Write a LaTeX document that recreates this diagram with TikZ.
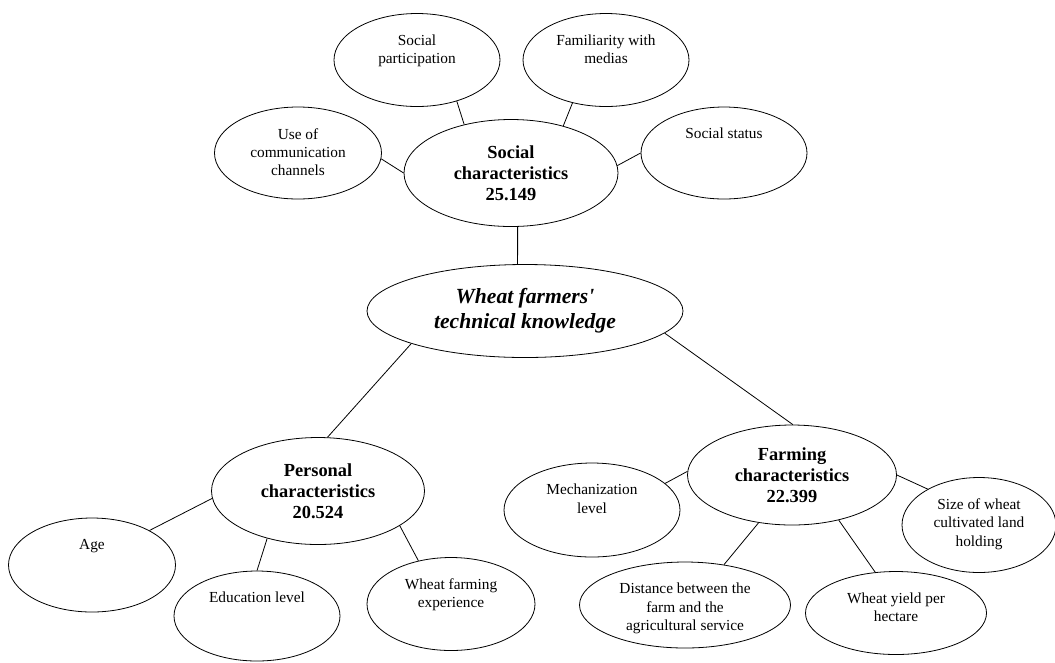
\documentclass[tikz,border=0pt]{standalone}
\usepackage{fontspec}
\setmainfont{Liberation Serif}[Ligatures=TeXOff]
\usetikzlibrary{positioning, shapes.geometric}

\begin{document}
\begin{tikzpicture}[x=0.75pt, y=-0.75pt,
    rootNode/.style={draw=black, line width=0.6pt, ellipse, inner sep=0pt, align=center, font=\fontsize{16.2}{18.8}\selectfont\bfseries\itshape},
    groupNode/.style={draw=black, line width=0.6pt, ellipse, inner sep=0pt, align=center, font=\fontsize{13.8}{15.6}\selectfont\bfseries},
    leafNode/.style={draw=black, line width=0.6pt, ellipse, inner sep=0pt},
    leafText/.style={inner sep=0pt, align=center, font=\fontsize{11.5}{13.8}\selectfont},
    link/.style={draw=black, line width=0.6pt},
]
\useasboundingbox (0,0) rectangle (1055,662);

\node[rootNode,  minimum width=237pt,    minimum height=69.75pt] (wk)   at (525,311) {Wheat farmers'\\technical knowledge};
\node[groupNode, minimum width=160.5pt,  minimum height=80.25pt] (soc)  at (511,173) {Social\\characteristics\\25.149};
\node[groupNode, minimum width=159.75pt, minimum height=80.25pt] (pers) at (318,491) {Personal\\characteristics\\20.524};
\node[groupNode, minimum width=156.75pt, minimum height=75pt]    (farm) at (792,475) {Farming\\characteristics\\22.399};

\node[leafNode, minimum width=124.5pt,  minimum height=69.75pt] (sp)   at (417,60)  {};
\node[leafNode, minimum width=124.5pt,  minimum height=69.75pt] (fam)  at (606,60)  {};
\node[leafNode, minimum width=125.25pt, minimum height=69pt]    (usec) at (298,153) {};
\node[leafNode, minimum width=124.5pt,  minimum height=69pt]    (stat) at (724,153) {};
\node[leafNode, minimum width=125.25pt, minimum height=70.5pt]  (age)  at (92,565)  {};
\node[leafNode, minimum width=124.5pt,  minimum height=67.5pt]  (edu)  at (257,616) {};
\node[leafNode, minimum width=126pt,    minimum height=69.75pt] (exp)  at (451,604) {};
\node[leafNode, minimum width=132pt,    minimum height=70.5pt]  (mech) at (592,510) {};
\node[leafNode, minimum width=158.25pt, minimum height=64.5pt]  (dist) at (685,605) {};
\node[leafNode, minimum width=135.75pt, minimum height=62.25pt] (yld)  at (896,613) {};
\node[leafNode, minimum width=115.5pt,  minimum height=71.25pt] (size) at (979,525) {};

\node[leafText, below=16pt of sp.north]   (spText)   {Social\\participation};
\node[leafText, below=16pt of fam.north]  (famText)  {Familiarity with\\medias};
\node[leafText, below=16pt of usec.north] (usecText) {Use of\\communication\\channels};
\node[leafText, below=16pt of stat.north] (statText) {Social status};
\node[leafText, below=16pt of age.north]  (ageText)  {Age};
\node[leafText, below=16pt of edu.north]  (eduText)  {Education level};
\node[leafText, below=16pt of exp.north]  (expText)  {Wheat farming\\experience};
\node[leafText, below=16pt of mech.north] (mechText) {Mechanization\\level};
\node[leafText, below=16pt of dist.north] (distText) {Distance between the\\farm and the\\agricultural service};
\node[leafText, below=16pt of yld.north]  (yldText)  {Wheat yield per\\hectare};
\node[leafText, below=16pt of size.north] (sizeText) {Size of wheat\\cultivated land\\holding};

\draw[link] (soc.-83)   -- (wk.99);
\draw[link] (sp.-46)    -- (soc.134);
\draw[link] (fam.-128)  -- (soc.42);
\draw[link] (usec.-4)   -- (soc.180);
\draw[link] (stat.180)  -- (soc.4);
\draw[link] (wk.196)    -- (pers.80);
\draw[link] (wk.-9)     -- (farm.89);
\draw[link] (pers.184)  -- (age.31);
\draw[link] (pers.-137) -- (edu.90);
\draw[link] (pers.-23)  -- (exp.127);
\draw[link] (farm.178)  -- (mech.20);
\draw[link] (farm.-125) -- (dist.46);
\draw[link] (farm.-44)  -- (yld.117);
\draw[link] (farm.0)    -- (size.145);
\end{tikzpicture}
\end{document}
